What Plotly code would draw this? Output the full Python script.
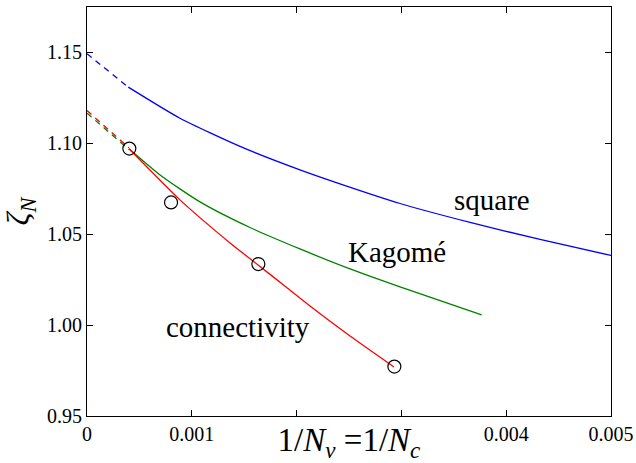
import plotly.graph_objects as go

# Square lattice
sq_x = [0.000394, 0.000887, 0.001460, 0.002032, 0.002414, 0.002987, 0.003655, 0.004323, 0.005]
sq_y = [1.1309, 1.1138, 1.0983, 1.0854, 1.0777, 1.0669, 1.0565, 1.0471, 1.0383]
sq_ext_x = [0.0, 0.000394]
sq_ext_y = [1.1493, 1.1309]

# Kagome lattice
kg_x = [0.000401, 0.000697, 0.001078, 0.001555, 0.002032, 0.002510, 0.002987, 0.003766]
kg_y = [1.0970, 1.0826, 1.0678, 1.0537, 1.0419, 1.0309, 1.0210, 1.0056]
kg_ext_x = [0.0, 0.000401]
kg_ext_y = [1.1166, 1.0965]

# Connectivity
cn_x = [0.000401, 0.000887, 0.001365, 0.001632, 0.001899, 0.002128, 0.002510, 0.002929]
cn_y = [1.0970, 1.0689, 1.0452, 1.0331, 1.0210, 1.0105, 0.9940, 0.9770]
cn_ext_x = [0.0, 0.000401]
cn_ext_y = [1.1180, 1.0975]

# Data points
pt_x = [0.000404, 0.000802, 0.001635, 0.002933]
pt_y = [1.0971, 1.0675, 1.0336, 0.9772]

x_ticks = [0, 0.001, 0.002, 0.003, 0.004, 0.005]
x_ticklabels = ["0", "0.001", "", "", "0.004", "0.005"]
y_ticks = [0.95, 1.00, 1.05, 1.10, 1.15]
y_ticklabels = ["0.95", "1.00", "1.05", "1.10", "1.15"]

FONT = "Liberation Serif, Times New Roman, Times, serif"
lw = 1.3

fig = go.Figure()
for ex, ey, cx, cy, col in [
    (sq_ext_x, sq_ext_y, sq_x, sq_y, "#0000ff"),
    (kg_ext_x, kg_ext_y, kg_x, kg_y, "#008000"),
    (cn_ext_x, cn_ext_y, cn_x, cn_y, "#ff0000"),
]:
    fig.add_trace(go.Scatter(x=ex, y=ey, mode="lines",
                             line=dict(color=col, width=lw, dash="6px,5px"),
                             showlegend=False, hoverinfo="skip"))
    fig.add_trace(go.Scatter(x=cx, y=cy, mode="lines",
                             line=dict(color=col, width=lw, shape="spline", smoothing=0.6),
                             showlegend=False))

fig.add_trace(go.Scatter(x=pt_x, y=pt_y, mode="markers",
                         marker=dict(symbol="circle-open", size=13, color="black",
                                     line=dict(width=1.2, color="black")),
                         showlegend=False))

ann_font = dict(family=FONT, size=29, color="black")
fig.add_annotation(x=0.003865, y=1.0689, text="square", showarrow=False, font=ann_font)
fig.add_annotation(x=0.002958, y=1.0402, text="Kagomé", showarrow=False, font=ann_font)
fig.add_annotation(x=0.001441, y=0.9990, text="connectivity", showarrow=False, font=ann_font)

fig.update_layout(
    width=636, height=463,
    margin=dict(l=87, r=25, t=7, b=47),
    paper_bgcolor="white", plot_bgcolor="white",
    font=dict(family=FONT, color="black"),
)
fig.update_xaxes(
    range=[0, 0.005], tickvals=x_ticks, ticktext=x_ticklabels,
    ticks="inside", ticklen=6, tickcolor="black", tickwidth=1,
    showline=True, linecolor="black", linewidth=1, mirror="ticks",
    showgrid=False, zeroline=False, automargin=False,
    tickfont=dict(family=FONT, size=20),
    title=dict(text="1/<i>N</i><sub><i>v</i></sub> =1/<i>N</i><sub><i>c</i></sub>",
               font=dict(family=FONT, size=33), standoff=6),
)
fig.update_yaxes(
    range=[0.95, 1.175], tickvals=y_ticks, ticktext=y_ticklabels,
    ticks="inside", ticklen=6, tickcolor="black", tickwidth=1,
    showline=True, linecolor="black", linewidth=1, mirror="ticks",
    showgrid=False, zeroline=False, automargin=False,
    tickfont=dict(family=FONT, size=20),
    title=dict(text="<i>ζ</i><sub><i>N</i></sub>", font=dict(family=FONT, size=32), standoff=7),
)

fig.write_html("out.html", config={"displayModeBar": False},
               post_script="document.body.style.margin='0';")
